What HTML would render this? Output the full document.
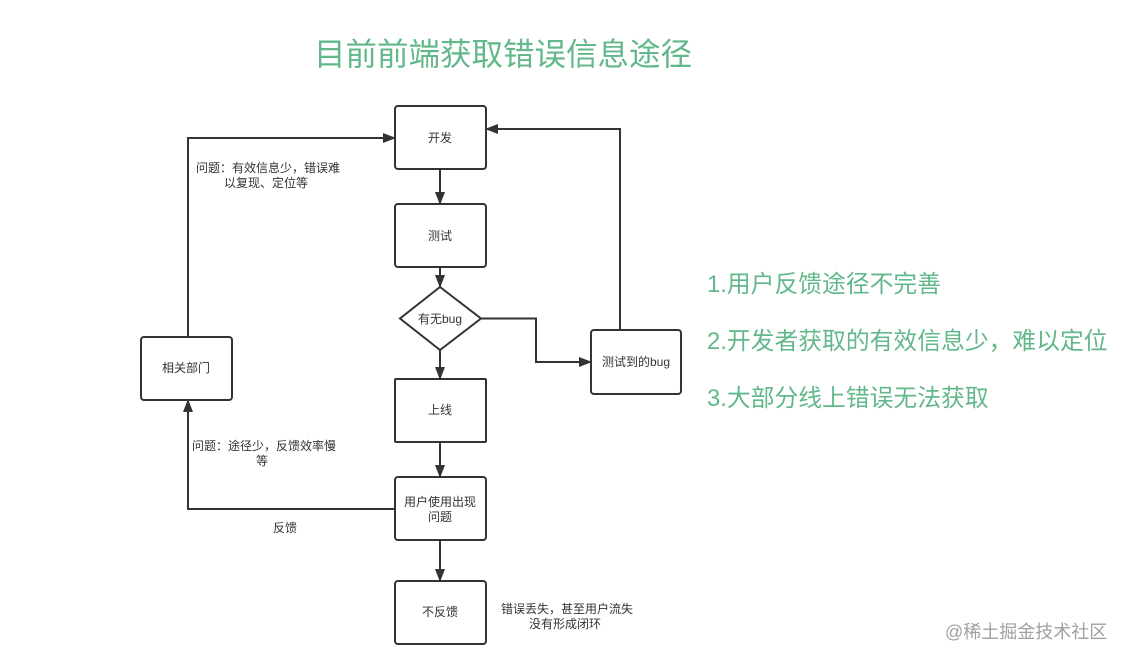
<!DOCTYPE html>
<html>
<head>
<meta charset="utf-8">
<style>
html,body{margin:0;padding:0;background:#fff;}
body{width:1125px;height:661px;overflow:hidden;position:relative;}
svg{position:absolute;left:0;top:0;}
text{font-family:"Liberation Sans","Noto Sans CJK SC","WenQuanYi Zen Hei",sans-serif;}
</style>
</head>
<body>
<svg width="1125" height="661" viewBox="0 0 1125 661" xmlns="http://www.w3.org/2000/svg">
<defs>
<marker id="ah" markerWidth="13" markerHeight="10" refX="12" refY="5" orient="auto" markerUnits="userSpaceOnUse">
<path d="M0,0 L13,5 L0,10 Z" fill="#333"/>
</marker>
</defs>

<!-- Title -->
<text x="314" y="65" font-size="31.5" fill="#62b88a">目前前端获取错误信息途径</text>

<!-- Boxes -->
<g fill="#fff" stroke="#333" stroke-width="2">
<rect x="395" y="106" width="91" height="63" rx="3"/>
<rect x="395" y="204" width="91" height="63" rx="3"/>
<polygon points="440,287 481,318.5 440,350 400,318.5"/>
<rect x="395" y="379" width="91" height="63" rx="1"/>
<rect x="395" y="477" width="91" height="63" rx="3"/>
<rect x="395" y="581" width="91" height="63" rx="3"/>
<rect x="141" y="337" width="91" height="63" rx="3"/>
<rect x="591" y="330" width="90" height="64" rx="3"/>
</g>

<!-- Connectors -->
<g fill="none" stroke="#333" stroke-width="2">
<line x1="440" y1="169" x2="440" y2="204" marker-end="url(#ah)"/>
<line x1="440" y1="267" x2="440" y2="287" marker-end="url(#ah)"/>
<line x1="440" y1="350" x2="440" y2="379" marker-end="url(#ah)"/>
<line x1="440" y1="442" x2="440" y2="477" marker-end="url(#ah)"/>
<line x1="440" y1="540" x2="440" y2="581" marker-end="url(#ah)"/>
<polyline points="481,318.5 536,318.5 536,362 591,362" marker-end="url(#ah)"/>
<polyline points="620,330 620,129 486,129" marker-end="url(#ah)"/>
<polyline points="395,509 188,509 188,400" marker-end="url(#ah)"/>
<polyline points="188,337 188,138 395,138" marker-end="url(#ah)"/>
</g>

<!-- Box labels -->
<g font-size="12" fill="#333" text-anchor="middle">
<text x="440" y="142">开发</text>
<text x="440" y="240">测试</text>
<text x="440" y="323">有无bug</text>
<text x="440" y="414">上线</text>
<text x="440" y="506">用户使用出现</text>
<text x="440" y="521">问题</text>
<text x="440" y="616">不反馈</text>
<text x="186" y="372">相关部门</text>
<text x="636" y="366">测试到的bug</text>
</g>

<!-- Connector labels -->
<g font-size="12" fill="#333">
<text x="196" y="172">问题：有效信息少，错误难</text>
<text x="224" y="187">以复现、定位等</text>
<text x="192" y="450">问题：途径少，反馈效率慢</text>
<text x="262" y="465" text-anchor="middle">等</text>
<text x="273" y="532">反馈</text>
<text x="501" y="613">错误丢失，甚至用户流失</text>
<text x="565" y="628" text-anchor="middle">没有形成闭环</text>
</g>

<!-- Right notes -->
<g font-size="23.8" fill="#62b88a">
<text x="707" y="292">1.用户反馈途径不完善</text>
<text x="707" y="349">2.开发者获取的有效信息少，难以定位</text>
<text x="707" y="406">3.大部分线上错误无法获取</text>
</g>

<!-- Watermark -->
<text x="945" y="638" font-size="18" fill="#a0a0a0">@稀土掘金技术社区</text>
</svg>
</body>
</html>
